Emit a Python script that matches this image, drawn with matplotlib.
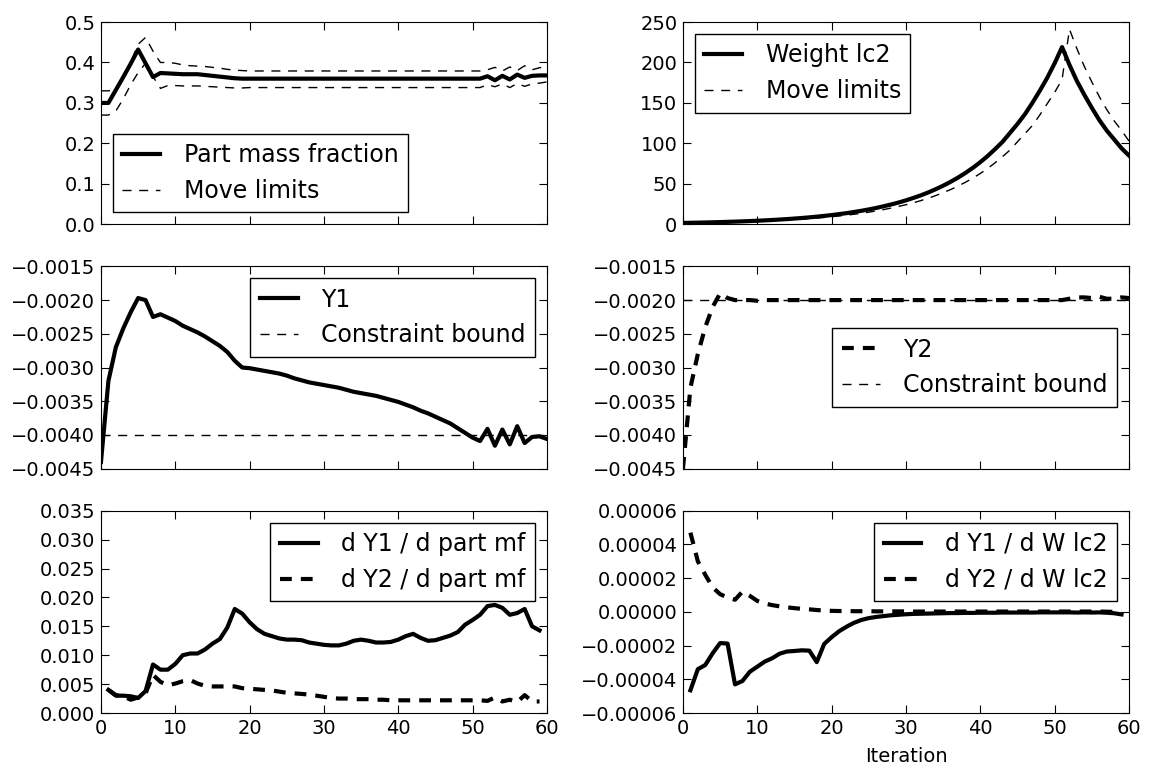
import matplotlib
matplotlib.use("Agg")
import matplotlib.pyplot as plt

# iterations
it_full = list(range(0, 61))
it_grad = list(range(1, 60))

# part mass fraction and its move limits
pmf = [0.300, 0.300, 0.332, 0.364, 0.397, 0.432, 0.398, 0.364, 0.374, 0.373,
       0.372, 0.371, 0.371, 0.371, 0.369, 0.367, 0.365, 0.363, 0.361, 0.360,
       0.360, 0.360, 0.360, 0.360, 0.360, 0.360, 0.360, 0.360, 0.360, 0.360,
       0.360, 0.360, 0.360, 0.360, 0.360, 0.360, 0.360, 0.360, 0.360, 0.360,
       0.360, 0.360, 0.360, 0.360, 0.360, 0.360, 0.360, 0.360, 0.360, 0.360,
       0.360, 0.360, 0.366, 0.356, 0.367, 0.358, 0.370, 0.362, 0.367, 0.368,
       0.368]
pmf_upper = [0.330, 0.330, 0.332, 0.364, 0.400, 0.445, 0.462, 0.428, 0.400, 0.400,
             0.398, 0.394, 0.392, 0.391, 0.390, 0.388, 0.386, 0.383, 0.381, 0.380,
             0.379, 0.379, 0.379, 0.379, 0.379, 0.379, 0.379, 0.379, 0.379, 0.379,
             0.379, 0.379, 0.379, 0.379, 0.379, 0.379, 0.379, 0.379, 0.379, 0.379,
             0.379, 0.379, 0.379, 0.379, 0.379, 0.379, 0.379, 0.379, 0.379, 0.379,
             0.379, 0.379, 0.382, 0.388, 0.379, 0.389, 0.380, 0.392, 0.382, 0.387,
             0.390]
pmf_lower = [0.270, 0.270, 0.280, 0.310, 0.345, 0.375, 0.398, 0.365, 0.336, 0.343,
             0.343, 0.342, 0.342, 0.342, 0.341, 0.340, 0.339, 0.338, 0.337, 0.337,
             0.338, 0.338, 0.338, 0.338, 0.338, 0.338, 0.338, 0.338, 0.338, 0.338,
             0.338, 0.338, 0.338, 0.338, 0.338, 0.338, 0.338, 0.338, 0.338, 0.338,
             0.338, 0.338, 0.338, 0.338, 0.338, 0.338, 0.338, 0.338, 0.338, 0.338,
             0.338, 0.338, 0.345, 0.340, 0.347, 0.338, 0.348, 0.341, 0.347, 0.349,
             0.352]

# weight of load case 2 and its move limit
w_lc2 = [1.70, 1.87, 2.06, 2.26, 2.49, 2.74, 3.01, 3.31, 3.64, 4.01,
         4.41, 4.85, 5.33, 5.87, 6.45, 7.10, 7.81, 8.59, 9.45, 10.4,
         11.4, 12.6, 13.8, 15.2, 16.7, 18.4, 20.2, 22.3, 24.5, 26.9,
         29.6, 32.6, 35.8, 39.4, 43.4, 47.7, 52.5, 57.7, 63.5, 69.8,
         76.8, 84.5, 93.0, 102.0, 113.0, 124.0, 136.0, 150.0, 165.0, 181.0,
         199.0, 219.0, 197.0, 177.0, 160.0, 144.0, 129.0, 116.0, 105.0, 94.0,
         85.0]
w_limit = [1.53, 1.53, 1.68, 1.85, 2.03, 2.24, 2.47, 2.71, 2.98, 3.28,
           3.61, 3.97, 4.37, 4.80, 5.28, 5.81, 6.39, 7.03, 7.73, 8.51,
           9.36, 10.3, 11.3, 12.4, 13.7, 15.0, 16.6, 18.2, 20.1, 22.1,
           24.2, 26.6, 29.3, 32.2, 35.5, 39.1, 42.9, 47.3, 51.9, 57.2,
           62.8, 69.1, 76.1, 83.7, 91.8, 102.0, 112.0, 122.0, 135.0, 149.0,
           163.0, 179.0, 241.0, 217.0, 195.0, 176.0, 158.0, 142.0, 128.0, 116.0,
           103.0]

# constraints
y1 = [-0.00440, -0.00320, -0.00270, -0.00242, -0.00218, -0.00197, -0.00200, -0.00225, -0.00221, -0.00226,
      -0.00231, -0.00238, -0.00243, -0.00248, -0.00254, -0.00261, -0.00268, -0.00277, -0.00290, -0.00300,
      -0.00301, -0.00303, -0.00305, -0.00307, -0.00309, -0.00312, -0.00316, -0.00319, -0.00322, -0.00324,
      -0.00326, -0.00328, -0.00330, -0.00333, -0.00336, -0.00338, -0.00340, -0.00342, -0.00345, -0.00348,
      -0.00351, -0.00355, -0.00359, -0.00364, -0.00368, -0.00373, -0.00378, -0.00383, -0.00390, -0.00397,
      -0.00404, -0.00409, -0.00391, -0.00416, -0.00392, -0.00414, -0.00387, -0.00412, -0.00403, -0.00402,
      -0.00406]
y2 = [-0.00450, -0.00330, -0.00280, -0.00240, -0.00210, -0.00190, -0.00197, -0.00200, -0.00200, -0.00200,
      -0.00201, -0.00200, -0.00200, -0.00200, -0.00200, -0.00200, -0.00200, -0.00200, -0.00200, -0.00200,
      -0.00200, -0.00200, -0.00200, -0.00200, -0.00200, -0.00200, -0.00200, -0.00200, -0.00200, -0.00200,
      -0.00200, -0.00200, -0.00200, -0.00200, -0.00200, -0.00200, -0.00200, -0.00200, -0.00200, -0.00200,
      -0.00200, -0.00200, -0.00200, -0.00200, -0.00200, -0.00200, -0.00200, -0.00200, -0.00200, -0.00200,
      -0.00200, -0.00200, -0.00198, -0.00196, -0.00196, -0.00197, -0.00195, -0.00198, -0.00198, -0.00196,
      -0.00197]
y1_bound = -0.004
y2_bound = -0.002

# sensitivities
dy1_dpmf = [0.0040, 0.0030, 0.0030, 0.0029, 0.0026, 0.0038, 0.0084, 0.0075, 0.0075, 0.0085,
            0.0100, 0.0103, 0.0103, 0.0110, 0.0120, 0.0128, 0.0148, 0.0180, 0.0172, 0.0157,
            0.0145, 0.0137, 0.0133, 0.0129, 0.0127, 0.0127, 0.0126, 0.0122, 0.0120, 0.0118,
            0.0117, 0.0117, 0.0120, 0.0125, 0.0127, 0.0125, 0.0122, 0.0122, 0.0123, 0.0127,
            0.0133, 0.0137, 0.0130, 0.0125, 0.0126, 0.0130, 0.0134, 0.0140, 0.0153, 0.0161,
            0.0170, 0.0185, 0.0187, 0.0182, 0.0170, 0.0173, 0.0180, 0.0150, 0.0143]
dy2_dpmf = [0.0040, 0.0031, 0.0029, 0.0023, 0.0027, 0.0034, 0.0066, 0.0054, 0.0048, 0.0051,
            0.0055, 0.0057, 0.0051, 0.0047, 0.0046, 0.0046, 0.0046, 0.0046, 0.0043, 0.0042,
            0.0041, 0.0040, 0.0039, 0.0037, 0.0035, 0.0034, 0.0033, 0.0032, 0.0030, 0.0028,
            0.0026, 0.0025, 0.0025, 0.0024, 0.0024, 0.0024, 0.0023, 0.0023, 0.0022, 0.0022,
            0.0022, 0.0022, 0.0022, 0.0022, 0.0022, 0.0022, 0.0022, 0.0022, 0.0022, 0.0022,
            0.0022, 0.0021, 0.0027, 0.0020, 0.0023, 0.0019, 0.0031, 0.0020, 0.0020]
dy1_dw = [-4.65e-5, -3.40e-5, -3.15e-5, -2.45e-5, -1.85e-5, -1.88e-5, -4.30e-5, -4.10e-5, -3.55e-5, -3.25e-5,
          -2.95e-5, -2.75e-5, -2.48e-5, -2.35e-5, -2.32e-5, -2.28e-5, -2.30e-5, -2.98e-5, -1.90e-5, -1.50e-5,
          -1.15e-5, -0.88e-5, -0.65e-5, -0.48e-5, -0.37e-5, -0.30e-5, -0.25e-5, -0.20e-5, -0.17e-5, -0.14e-5,
          -0.12e-5, -0.11e-5, -0.10e-5, -0.09e-5, -0.08e-5, -0.07e-5, -0.07e-5, -0.06e-5, -0.06e-5, -0.05e-5,
          -0.05e-5, -0.05e-5, -0.04e-5, -0.04e-5, -0.04e-5, -0.04e-5, -0.04e-5, -0.03e-5, -0.03e-5, -0.03e-5,
          -0.03e-5, -0.03e-5, -0.04e-5, -0.03e-5, -0.04e-5, -0.03e-5, -0.05e-5, -0.08e-5, -0.15e-5]
dy2_dw = [4.70e-5, 3.00e-5, 2.20e-5, 1.45e-5, 1.05e-5, 0.85e-5, 0.72e-5, 1.20e-5, 0.95e-5, 0.65e-5,
          0.50e-5, 0.40e-5, 0.33e-5, 0.27e-5, 0.22e-5, 0.18e-5, 0.15e-5, 0.11e-5, 0.08e-5, 0.06e-5,
          0.05e-5, 0.05e-5, 0.04e-5, 0.04e-5, 0.04e-5, 0.03e-5, 0.03e-5, 0.03e-5, 0.03e-5, 0.03e-5,
          0.02e-5, 0.02e-5, 0.02e-5, 0.02e-5, 0.02e-5, 0.02e-5, 0.02e-5, 0.02e-5, 0.02e-5, 0.02e-5,
          0.02e-5, 0.02e-5, 0.02e-5, 0.02e-5, 0.02e-5, 0.02e-5, 0.02e-5, 0.02e-5, 0.02e-5, 0.02e-5,
          0.02e-5, 0.02e-5, 0.02e-5, 0.02e-5, 0.02e-5, 0.02e-5, 0.01e-5, 0.00, -0.03e-5]

# tick positions
x_ticks = [0, 10, 20, 30, 40, 50, 60]
pmf_ticks = [0.0, 0.1, 0.2, 0.3, 0.4, 0.5]
w_ticks = [0, 50, 100, 150, 200, 250]
con_ticks = [-0.0045, -0.0040, -0.0035, -0.0030, -0.0025, -0.0020, -0.0015]
dpmf_ticks = [0.000, 0.005, 0.010, 0.015, 0.020, 0.025, 0.030, 0.035]
dw_ticks = [-0.00006, -0.00004, -0.00002, 0.0, 0.00002, 0.00004, 0.00006]

plt.rcParams.update({
    "font.family": "DejaVu Sans",
    "font.size": 14,
    "xtick.direction": "in",
    "ytick.direction": "in",
    "xtick.top": True,
    "ytick.right": True,
    "xtick.major.size": 5.5,
    "ytick.major.size": 5.5,
    "xtick.major.pad": 4,
    "ytick.major.pad": 4,
    "axes.formatter.limits": (-7, 7),
    "lines.scale_dashes": False,
    "legend.fontsize": 17,
    "legend.fancybox": False,
    "legend.framealpha": 1,
    "legend.edgecolor": "black",
    "legend.handlelength": 1.6,
    "legend.handletextpad": 1.0,
    "legend.borderaxespad": 0.5,
})

thin_dash = (6.5, 5.5)
thick_dash = (8.5, 6.5)

fig, axes = plt.subplots(3, 2, sharex=True, figsize=(11.5, 7.7), dpi=100)
fig.subplots_adjust(left=0.0878, right=0.9817, top=0.9714, bottom=0.074,
                    wspace=0.305, hspace=0.208)

# top left: part mass fraction
ax = axes[0, 0]
ax.plot(it_full, pmf, "k-", lw=3, label="Part mass fraction")
ax.plot(it_full, pmf_upper, "k--", lw=1, dashes=thin_dash, label="Move limits")
ax.plot(it_full, pmf_lower, "k--", lw=1, dashes=thin_dash)
ax.set_ylim(0, 0.5)
ax.set_yticks(pmf_ticks)
ax.legend(loc="lower left")

# top right: weight lc2
ax = axes[0, 1]
ax.plot(it_full, w_lc2, "k-", lw=3, label="Weight lc2")
ax.plot(it_full, w_limit, "k--", lw=1, dashes=thin_dash, label="Move limits")
ax.set_ylim(0, 250)
ax.set_yticks(w_ticks)
ax.legend(loc="upper left")

# middle left: Y1
ax = axes[1, 0]
ax.plot(it_full, y1, "k-", lw=3, label="Y1")
ax.plot(it_full, [y1_bound] * len(it_full), "k--", lw=1, dashes=thin_dash,
        label="Constraint bound")
ax.set_ylim(-0.0045, -0.0015)
ax.set_yticks(con_ticks)
ax.legend(loc="upper right")

# middle right: Y2
ax = axes[1, 1]
ax.plot(it_full, [y2_bound] * len(it_full), "k--", lw=1, dashes=thin_dash)
ax.plot(it_full, y2, "k--", lw=3, dashes=thick_dash, label="Y2")
ax.plot([], [], "k--", lw=1, dashes=thin_dash, label="Constraint bound")
ax.set_ylim(-0.0045, -0.0015)
ax.set_yticks(con_ticks)
ax.legend(loc="center right")

# bottom left: sensitivities wrt part mass fraction
ax = axes[2, 0]
ax.plot(it_grad, dy1_dpmf, "k-", lw=3, label="d Y1 / d part mf")
ax.plot(it_grad, dy2_dpmf, "k--", lw=3, dashes=thick_dash, label="d Y2 / d part mf")
ax.set_ylim(0, 0.035)
ax.set_yticks(dpmf_ticks)
ax.legend(loc="upper right")

# bottom right: sensitivities wrt weight lc2
ax = axes[2, 1]
ax.plot(it_grad, dy1_dw, "k-", lw=3, label="d Y1 / d W lc2")
ax.plot(it_grad, dy2_dw, "k--", lw=3, dashes=thick_dash, label="d Y2 / d W lc2")
ax.set_ylim(-0.00006, 0.00006)
ax.set_yticks(dw_ticks)
ax.legend(loc="upper right")
ax.set_xlabel("Iteration", labelpad=7)

for ax in axes.flat:
    ax.set_xlim(0, 60)
    ax.set_xticks(x_ticks)

fig.savefig("out.png", dpi=100, facecolor="white")
